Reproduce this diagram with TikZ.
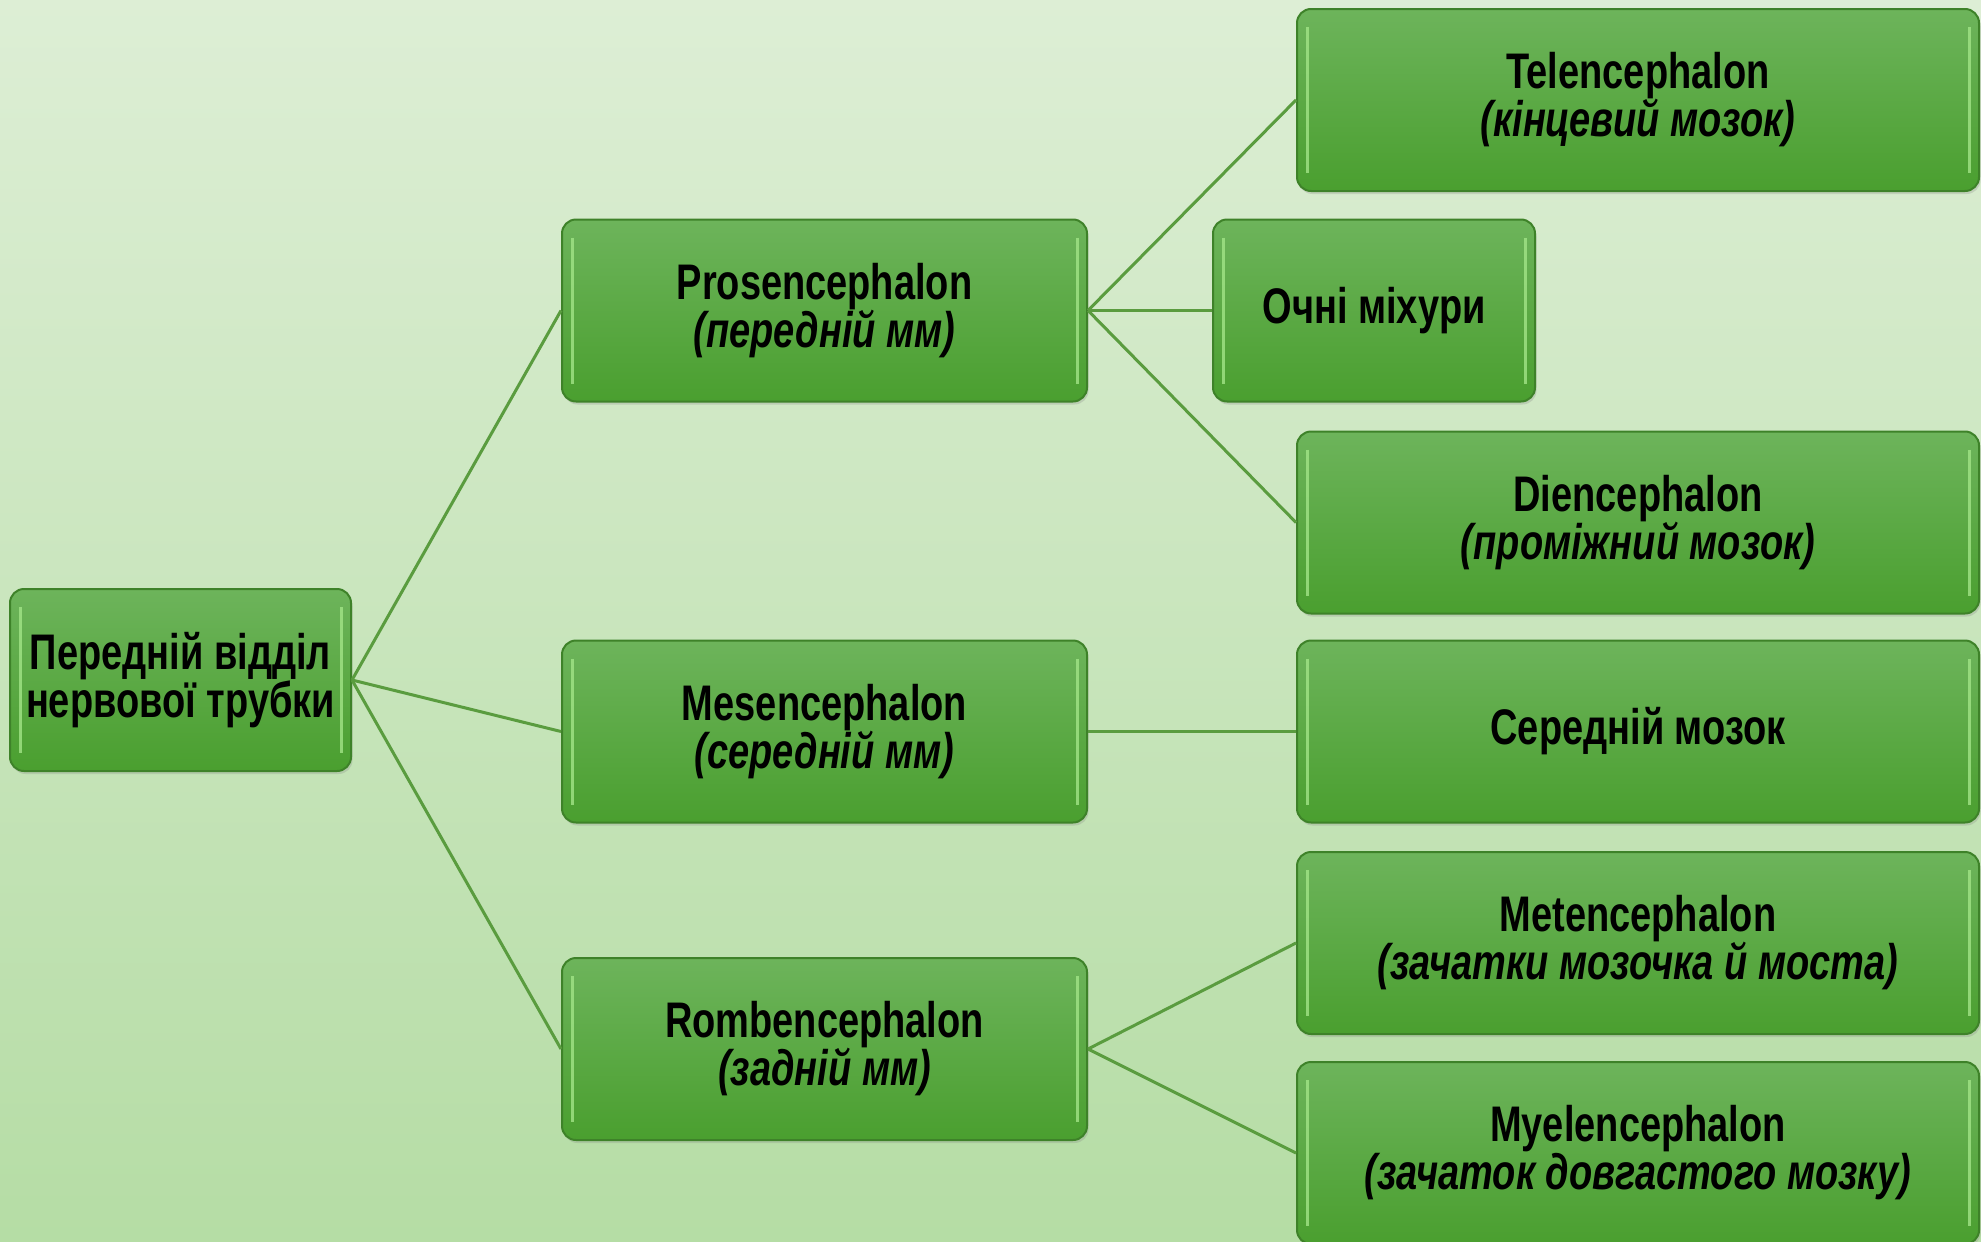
\documentclass[tikz,border=0pt]{standalone}
\usepackage{fontspec}
\setmainfont{Liberation Sans}[FakeStretch=0.76]
\usetikzlibrary{shadows}
\definecolor{bgtop}{HTML}{F1F7ED}
\definecolor{bgmid}{HTML}{ADD99B}
\definecolor{bgbot}{HTML}{C3E3B3}
\definecolor{boxtop}{HTML}{6DB45B}
\definecolor{boxbot}{HTML}{4A9F2F}
\definecolor{boxline}{HTML}{3E8229}
\definecolor{bevel}{HTML}{A2E487}
\definecolor{conn}{HTML}{5A9C3F}
\pgfdeclareverticalshading{bgshade}{100bp}{color(0bp)=(bgbot); color(15bp)=(bgmid); color(100bp)=(bgtop)}
\tikzset{
  gbox/.style={rounded corners=14pt, draw=boxline, line width=2pt,
    top color=boxtop, bottom color=boxbot, minimum height=182pt,
    align=center, inner sep=0pt, text=black,
    font=\fontsize{50}{48}\selectfont\bfseries,
    drop shadow={opacity=0.25, shadow xshift=1.5pt, shadow yshift=-3pt},
    path picture={
      \draw[bevel, line width=3pt, opacity=0.8]
        ([xshift=10pt,yshift=-18pt]path picture bounding box.north west) --
        ([xshift=10pt,yshift=18pt]path picture bounding box.south west);
      \draw[bevel, line width=3pt, opacity=0.8]
        ([xshift=-10pt,yshift=-18pt]path picture bounding box.north east) --
        ([xshift=-10pt,yshift=18pt]path picture bounding box.south east);
    }},
  link/.style={draw=conn, line width=3pt}
}
\begin{document}
\begin{tikzpicture}[x=1pt,y=-1pt]
\shade[shading=bgshade] (0,0) rectangle (1981,1242);
\useasboundingbox (0,0) rectangle (1981,1242);

\node[gbox, minimum width=341pt] (root) at (180.5,680) {Передній відділ\\нервової трубки};

\node[gbox, minimum width=525pt] (pros) at (824.5,310.5) {Prosencephalon\\{\itshape (передній мм)}};
\node[gbox, minimum width=525pt] (meso) at (824.5,731.5) {Mesencephalon\\{\itshape (середній мм)}};
\node[gbox, minimum width=525pt] (romb) at (824.5,1049) {Rombencephalon\\{\itshape (задній мм)}};

\node[gbox, minimum width=682pt] (tel) at (1638,100) {Telencephalon\\{\itshape (кінцевий мозок)}};
\node[gbox, minimum width=322pt] (och) at (1374,310.5) {Очні міхури};
\node[gbox, minimum width=682pt] (die) at (1638,522.5) {Diencephalon\\{\itshape (проміжний мозок)}};
\node[gbox, minimum width=682pt] (ser) at (1638,731.5) {Середній мозок};
\node[gbox, minimum width=682pt] (met) at (1638,943) {Metencephalon\\{\itshape (зачатки мозочка й моста)}};
\node[gbox, minimum width=682pt] (mye) at (1638,1153) {Myelencephalon\\{\itshape (зачаток довгастого мозку)}};

\draw[link] (root.east) -- (pros.west);
\draw[link] (root.east) -- (meso.west);
\draw[link] (root.east) -- (romb.west);
\draw[link] (pros.east) -- (tel.west);
\draw[link] (pros.east) -- (och.west);
\draw[link] (pros.east) -- (die.west);
\draw[link] (meso.east) -- (ser.west);
\draw[link] (romb.east) -- (met.west);
\draw[link] (romb.east) -- (mye.west);
\end{tikzpicture}
\end{document}
